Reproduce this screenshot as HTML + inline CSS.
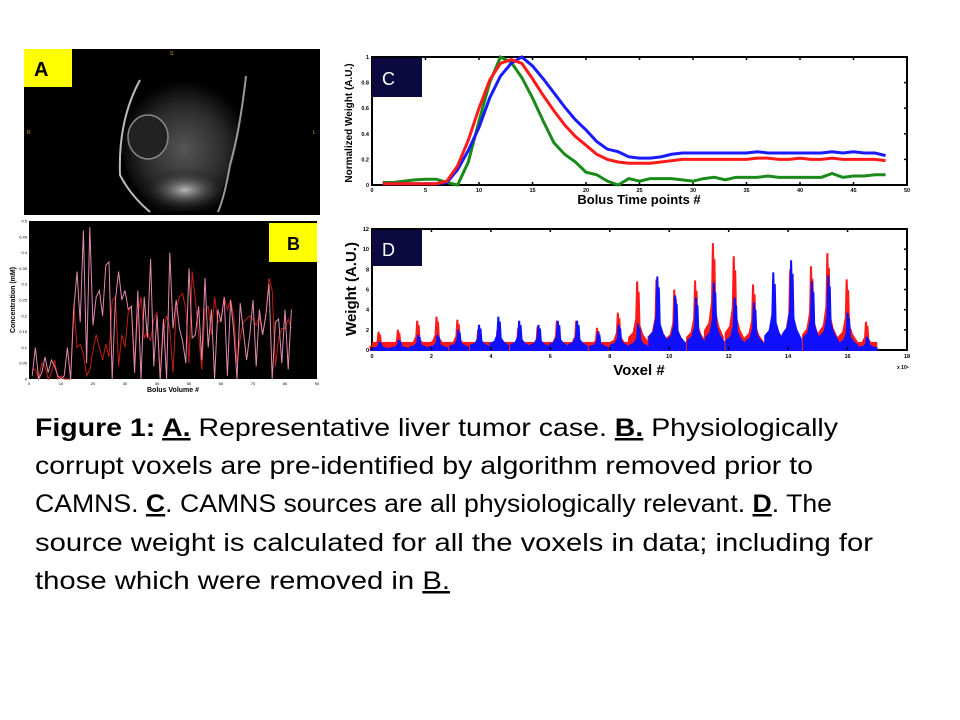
<!DOCTYPE html>
<html><head><meta charset="utf-8"><style>
body{margin:0;width:960px;height:720px;background:#fff;overflow:hidden;position:relative;font-family:"Liberation Sans",sans-serif}
</style></head><body>
<svg id="fig" width="960" height="720" style="position:absolute;left:0;top:0" font-family="Liberation Sans, sans-serif"></svg>
<svg width="960" height="720" style="position:absolute;left:0;top:0" font-family="Liberation Sans, sans-serif" font-size="25">
<text x="35" y="436" textLength="803" lengthAdjust="spacingAndGlyphs"><tspan font-weight="bold">Figure 1: <tspan text-decoration="underline">A.</tspan></tspan> Representative liver tumor case. <tspan font-weight="bold" text-decoration="underline">B.</tspan> Physiologically</text>
<text x="35" y="474" textLength="778" lengthAdjust="spacingAndGlyphs">corrupt voxels are pre-identified by algorithm removed prior to</text>
<text x="35" y="512" textLength="797" lengthAdjust="spacingAndGlyphs">CAMNS. <tspan font-weight="bold" text-decoration="underline">C</tspan>. CAMNS sources are all physiologically relevant. <tspan font-weight="bold" text-decoration="underline">D</tspan>. The</text>
<text x="35" y="551" textLength="838" lengthAdjust="spacingAndGlyphs">source weight is calculated for all the voxels in data; including for</text>
<text x="35" y="589" textLength="415" lengthAdjust="spacingAndGlyphs">those which were removed in <tspan text-decoration="underline">B.</tspan></text>
</svg>
<script>
const cTime=[1,2,3,4,5,6,7,8,9,10,11,12,13,14,15,16,17,18,19,20,21,22,23,24,25,26,27,28,29,30,31,32,33,34,35,36,37,38,39,40,41,42,43,44,45,46,47,48];
const cRed=[.01,.01,.01,.01,.01,.01,.03,.15,.35,.6,.82,.95,.98,.95,.83,.7,.58,.47,.38,.31,.24,.2,.18,.17,.17,.17,.18,.19,.2,.2,.2,.2,.2,.2,.2,.21,.21,.2,.2,.21,.2,.2,.21,.2,.2,.2,.2,.19];
const cBlue=[.01,.01,.01,.01,.01,.01,.02,.12,.27,.45,.68,.85,.95,1,.93,.83,.72,.61,.51,.43,.34,.28,.26,.22,.21,.21,.22,.24,.25,.25,.25,.25,.25,.25,.25,.26,.25,.25,.25,.25,.25,.25,.26,.25,.26,.25,.25,.23];
const cGreen=[.02,.02,.03,.04,.045,.045,.02,0,.18,.5,.8,1,.96,.84,.68,.5,.33,.24,.18,.1,.08,.03,0,.05,.03,.05,.05,.05,.04,.03,.05,.06,.04,.06,.06,.06,.07,.06,.06,.06,.06,.06,.09,.06,.07,.07,.08,.08];
const cXTicks=[0,5,10,15,20,25,30,35,40,45,50];
const cYTicks=[0,0.2,0.4,0.6,0.8,1];
const dCenters=[.25,.9,1.55,2.2,2.9,3.6,4.25,4.95,5.6,6.25,6.9,7.6,8.3,8.95,9.6,10.2,10.9,11.5,12.2,12.85,13.5,14.1,14.8,15.35,16.0,16.65];
const dRed=[1.8,2.0,2.9,3.3,3.0,2.0,2.0,2.2,2.3,2.9,2.9,2.2,3.7,6.8,7.0,6.0,6.9,10.6,9.3,6.5,2.6,8.0,8.3,9.6,7.0,2.8];
const dBlue=[.8,1.0,1.5,1.5,2.0,2.5,3.3,2.9,2.5,2.9,2.9,1.8,2.5,2.6,7.3,5.4,5.2,6.7,5.2,4.7,7.7,8.9,6.8,7.4,3.7,1.3];
const dGreen=[.4,.4,.5,.5,.6,.6,.6,.6,.6,.6,.6,.6,.8,1.2,1.5,1.5,1.6,1.8,2.0,1.5,1.5,1.6,1.8,1.8,1.2,.5];
const dXTicks=[0,2,4,6,8,10,12,14,16,18];
const dYTicks=[0,2,4,6,8,10,12];
const bTime=[];for(let i=1;i<=82;i++)bTime.push(i);
const bPink=[.01,.1,0,.02,.07,.02,.06,.04,.01,0,.01,.1,0,.22,.34,.18,.47,.05,.48,.17,.26,.28,.2,.36,.37,0,.25,.34,.25,.28,.22,.23,.02,.28,0,.26,.13,.38,.04,.2,0,.19,0,.4,.16,.25,.16,.12,.05,.35,.13,.14,.23,.06,.32,.1,.22,0,.22,.18,.26,.01,.25,.15,0,.24,.15,.06,.14,.25,.04,.22,.14,.2,.3,0,.18,.19,.05,.22,.03,.22];
const bRed=[.03,.03,0,.05,.04,0,.02,.06,0,.01,0,0,0,.24,.1,.11,.08,.01,.03,.09,.14,.1,.06,.11,.07,.25,.26,.04,.14,.1,.21,.23,.05,.2,.26,.13,.15,.12,.19,.21,0,.15,.2,.16,.02,.22,.26,.27,.22,.05,.34,.25,.14,.03,.22,.23,.14,.26,.18,.19,.26,.22,.25,.2,.05,.13,.18,.19,.2,.19,.17,.2,.14,.2,.32,.28,.04,.13,.16,.16,.19,.16];
const bXTicks=[0,10,20,30,40,50,60,70,80,90];
const bYTicks=[0,.05,.1,.15,.2,.25,.3,.35,.4,.45,.5];

const svg=document.getElementById('fig');const NS='http://www.w3.org/2000/svg';
function mk(t,a,p){const e=document.createElementNS(NS,t);for(const k in a)e.setAttribute(k,a[k]);(p||svg).appendChild(e);return e;}
function lin(d0,d1,r0,r1){return v=>r0+(v-d0)/(d1-d0)*(r1-r0);}

// Panel A
const gA=mk('g',{});
const defs=mk('defs',{});
const rg=mk('radialGradient',{id:'mri',cx:'0.5',cy:'0.55',r:'0.5'},defs);
mk('stop',{offset:'0','stop-color':'#555'},rg);mk('stop',{offset:'0.6','stop-color':'#2c2c2c'},rg);mk('stop',{offset:'1','stop-color':'#000'},rg);
const rg2=mk('radialGradient',{id:'mri2',cx:'0.5',cy:'0.5',r:'0.5'},defs);
mk('stop',{offset:'0','stop-color':'#bbb'},rg2);mk('stop',{offset:'1','stop-color':'#000','stop-opacity':'0'},rg2);
mk('rect',{x:24,y:49,width:296,height:166,fill:'#000'},gA);
mk('path',{d:'M140 80 L250 74 L245 110 L232 165 L215 210 L155 212 L130 180 L118 140 L122 100 Z',fill:'url(#mri)'},gA);
mk('ellipse',{cx:185,cy:190,rx:45,ry:22,fill:'url(#mri2)'},gA);
mk('ellipse',{cx:148,cy:137,rx:20,ry:22,fill:'#222',stroke:'#888','stroke-width':1.5},gA);
mk('path',{d:'M140 80 Q118 120 120 175 Q130 195 150 212',fill:'none',stroke:'#bbb','stroke-width':2},gA);
mk('path',{d:'M246 76 Q240 130 230 165 Q225 195 218 212',fill:'none',stroke:'#999','stroke-width':2},gA);
mk('rect',{x:24,y:49,width:48,height:38,fill:'#ffff00'},gA);
let t=mk('text',{x:34,y:76,'font-size':20,'font-weight':'bold',fill:'#000'},gA);t.textContent='A';
t=mk('text',{x:170,y:55,'font-size':5,fill:'#d4a000'},gA);t.textContent='S';
t=mk('text',{x:27,y:134,'font-size':5,fill:'#d4a000'},gA);t.textContent='R';
t=mk('text',{x:313,y:134,'font-size':5,fill:'#d4a000'},gA);t.textContent='L';

// Panel B
const gB=mk('g',{});
const bx=lin(0,90,29,317),by=lin(0,.5,379,221);
mk('rect',{x:29,y:221,width:288,height:158,fill:'#000'},gB);
bXTicks.forEach(v=>{const e=mk('text',{x:bx(v),y:385,'font-size':4,'text-anchor':'middle',fill:'#000'},gB);e.textContent=v;});
bYTicks.forEach(v=>{const e=mk('text',{x:27,y:by(v)+1.5,'font-size':4,'text-anchor':'end',fill:'#000'},gB);e.textContent=v;});
t=mk('text',{x:173,y:392,'font-size':7,'font-weight':'bold','text-anchor':'middle'},gB);t.textContent='Bolus Volume #';
t=mk('text',{x:0,y:0,'font-size':7,'font-weight':'bold','text-anchor':'middle',transform:'translate(15,300) rotate(-90)'},gB);t.textContent='Concentration (mM)';
function bLine(vals,col,name){const p=mk('polyline',{points:vals.map((v,i)=>bx(bTime[i])+','+by(v)).join(' '),fill:'none',stroke:col,'stroke-width':1},gB);}
bLine(bRed,'#c0200c','b-series-red');bLine(bPink,'#e08ab0','b-series-pink');
mk('rect',{x:269,y:223,width:48,height:39,fill:'#ffff00'},gB);
t=mk('text',{x:287,y:250,'font-size':18,'font-weight':'bold'},gB);t.textContent='B';

// Panel C
const gC=mk('g',{});
const cx=lin(0,50,372,907),cy=lin(0,1,185,57);
mk('rect',{x:372,y:57,width:535,height:128,fill:'#fff',stroke:'#000','stroke-width':2},gC);
cXTicks.forEach(v=>{mk('line',{x1:cx(v),x2:cx(v),y1:185,y2:182,stroke:'#000','stroke-width':1.5},gC);mk('line',{x1:cx(v),x2:cx(v),y1:57,y2:60,stroke:'#000','stroke-width':1.5},gC);const e=mk('text',{x:cx(v),y:192,'font-size':5.5,'font-weight':'bold','text-anchor':'middle'},gC);e.textContent=v;});
cYTicks.forEach(v=>{mk('line',{x1:904,x2:907,y1:cy(v),y2:cy(v),stroke:'#000','stroke-width':1.5},gC);const e=mk('text',{x:369,y:cy(v)+2,'font-size':5.5,'font-weight':'bold','text-anchor':'end'},gC);e.textContent=v;});
t=mk('text',{x:639,y:204,'font-size':13,'font-weight':'bold','text-anchor':'middle'},gC);t.textContent='Bolus Time points #';
t=mk('text',{x:0,y:0,'font-size':10,'font-weight':'bold','text-anchor':'middle',transform:'translate(352,123) rotate(-90)'},gC);t.textContent='Normalized Weight (A.U.)';
function cLine(vals,col,name){const p=mk('polyline',{points:vals.map((v,i)=>cx(cTime[i])+','+cy(v)).join(' '),fill:'none',stroke:col,'stroke-width':3},gC);}
cLine(cGreen,'#1a8a1a','c-series-green');cLine(cBlue,'#1a1aff','c-series-blue');cLine(cRed,'#ff1a1a','c-series-red');
mk('rect',{x:372,y:58,width:50,height:39,fill:'#0a0a40'},gC);
t=mk('text',{x:382,y:85,'font-size':18,fill:'#fff'},gC);t.textContent='C';

// Panel D
const gD=mk('g',{});
const dx=lin(0,18,372,907),dy=lin(0,12,350,229);
mk('rect',{x:372,y:229,width:535,height:121,fill:'#fff',stroke:'#000','stroke-width':2},gD);
function spike(c,h,col,name,w){
 const pts=[[c-0.3,0],[c-0.3,h*0.18],[c-0.15,h*0.25],[c-0.06,h*0.45],[c-0.03,h],[c,h*0.6],[c+0.02,h*0.85],[c+0.05,h*0.35],[c+0.15,h*0.22],[c+0.3,h*0.12],[c+0.3,0]];
 const p=mk('polygon',{points:pts.map(q=>dx(q[0])+','+dy(q[1])).join(' '),fill:col,stroke:col,'stroke-width':w},gD);
 }
mk('rect',{x:dx(0),y:dy(0.8),width:dx(17)-dx(0),height:dy(0)-dy(0.8),fill:'#ff1a1a'},gD);
dCenters.forEach((c,i)=>spike(c,dRed[i],'#ff1a1a','d-spike-red',2));
dCenters.forEach((c,i)=>spike(c+0.05,dGreen[i]+0.3,'#22cc22','d-spike-green',1));
dCenters.forEach((c,i)=>spike(c+0.03,dBlue[i],'#1010ff','d-spike-blue',2));
dXTicks.forEach(v=>{mk('line',{x1:dx(v),x2:dx(v),y1:350,y2:347,stroke:'#000','stroke-width':1.5},gD);mk('line',{x1:dx(v),x2:dx(v),y1:229,y2:232,stroke:'#000','stroke-width':1.5},gD);const e=mk('text',{x:dx(v),y:358,'font-size':5.5,'font-weight':'bold','text-anchor':'middle'},gD);e.textContent=v;});
dYTicks.forEach(v=>{mk('line',{x1:904,x2:907,y1:dy(v),y2:dy(v),stroke:'#000','stroke-width':1.5},gD);const e=mk('text',{x:369,y:dy(v)+2,'font-size':5.5,'font-weight':'bold','text-anchor':'end'},gD);e.textContent=v;});
t=mk('text',{x:639,y:375,'font-size':15,'font-weight':'bold','text-anchor':'middle'},gD);t.textContent='Voxel #';
t=mk('text',{x:897,y:369,'font-size':5,'font-weight':'bold'},gD);t.textContent='x 10\u2075';
t=mk('text',{x:0,y:0,'font-size':15,'font-weight':'bold','text-anchor':'middle',transform:'translate(356,289) rotate(-90)'},gD);t.textContent='Weight (A.U.)';
mk('rect',{x:372,y:230,width:50,height:36,fill:'#0a0a40'},gD);
t=mk('text',{x:382,y:256,'font-size':18,fill:'#fff'},gD);t.textContent='D';
</script>
</body></html>
